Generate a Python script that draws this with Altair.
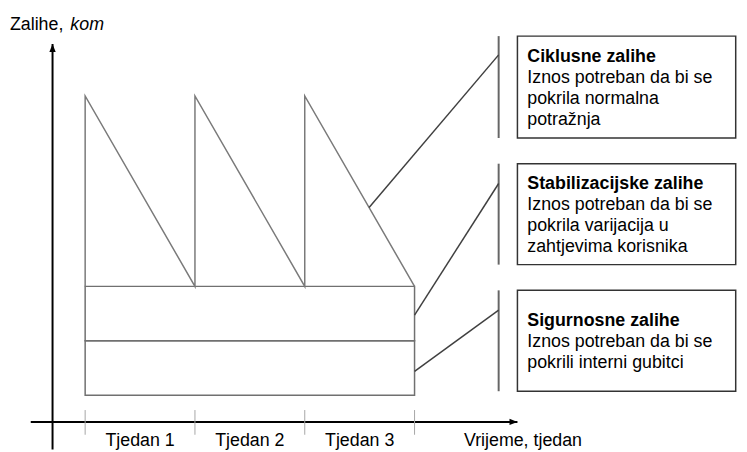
import altair as alt
import pandas as pd

# ---------------- data (weeks on x, stock units on y) ----------------
week_ticks = [0, 1, 2, 3]
week_labels = ["Tjedan 1", "Tjedan 2", "Tjedan 3"]
week_label_pos = [0.5, 1.5, 2.5]

saw_week = [0, 0, 1, 1, 2, 2, 3]
saw_level = [2, 5.5, 2, 5.5, 2, 5.5, 2]

band_low = [0, 1]
band_high = [1, 2]
band_start = [0, 0]
band_end = [3, 3]

box_titles = ["Ciklusne zalihe", "Stabilizacijske zalihe", "Sigurnosne zalihe"]
box_texts = [
    ["Iznos potreban da bi se", "pokrila normalna", "potražnja"],
    ["Iznos potreban da bi se", "pokrila varijacija u", "zahtjevima korisnika"],
    ["Iznos potreban da bi se", "pokrili interni gubitci"],
]
box_bottom = [4.727, 2.40, 0.073]
box_top = [6.60, 4.255, 1.927]
conn_from_x = [2.586, 3.0, 3.0]
conn_from_y = [3.45, 1.473, 0.436]
conn_to_y = [6.255, 3.891, 1.564]

# ---------------- layout ----------------
W, H = 739, 444
XDOM = [-0.7027, 5.9550]
YDOM = [-1.0, 7.0727]
FONT = "Liberation Sans"
FS = 18

xs = alt.Scale(domain=XDOM, nice=False, zero=False)
ys = alt.Scale(domain=YDOM, nice=False, zero=False)


def X(f="x"):
    return alt.X(f"{f}:Q", scale=xs, axis=None)


def Y(f="y"):
    return alt.Y(f"{f}:Q", scale=ys, axis=None)


X_AXIS_Y = -0.491
Y_AXIS_X = -0.297
X_AXIS_START = -0.4955
X_AXIS_END = 3.937
Y_AXIS_TOP = 6.4545
BRACKET_X = 3.766
BOX_X0, BOX_X1 = 3.937, 5.925
TEXT_X = 4.027
LINE_STEP = 0.391
CAP_OFF = 0.118

layers = []

# axes lines
axes_df = pd.DataFrame({
    "x": [X_AXIS_START, Y_AXIS_X],
    "x2": [X_AXIS_END, Y_AXIS_X],
    "y": [X_AXIS_Y, YDOM[0]],
    "y2": [X_AXIS_Y, Y_AXIS_TOP],
})
layers.append(alt.Chart(axes_df).mark_rule(color="black", strokeWidth=2).encode(
    x=X(), x2="x2:Q", y=Y(), y2="y2:Q"))

# arrowheads
layers.append(alt.Chart(pd.DataFrame({"x": [X_AXIS_END], "y": [X_AXIS_Y]})).mark_point(
    shape="M0,0L-4,-1.6L-4,1.6Z", size=16, filled=True, color="black", opacity=1, strokeWidth=0
).encode(x=X(), y=Y()))
layers.append(alt.Chart(pd.DataFrame({"x": [Y_AXIS_X], "y": [Y_AXIS_TOP]})).mark_point(
    shape="M0,0L-1.6,4L1.6,4Z", size=16, filled=True, color="black", opacity=1, strokeWidth=0
).encode(x=X(), y=Y()))

# ticks
tick_df = pd.DataFrame({"x": week_ticks, "y": [-0.273] * 4, "y2": [-0.727] * 4})
layers.append(alt.Chart(tick_df).mark_rule(color="#a6a6a6", strokeWidth=1).encode(
    x=X(), y=Y(), y2="y2:Q"))

# tick labels
lab_df = pd.DataFrame({"x": week_label_pos, "y": [-0.927] * 3, "t": week_labels})
layers.append(alt.Chart(lab_df).mark_text(font=FONT, fontSize=FS, color="black",
                                          baseline="alphabetic", align="center").encode(
    x=X(), y=Y(), text="t:N"))

# axis titles
layers.append(alt.Chart(pd.DataFrame({"x": [3.45], "y": [-0.927], "t": ["Vrijeme, tjedan"]})).mark_text(
    font=FONT, fontSize=FS, color="black", baseline="alphabetic", align="left").encode(
    x=X(), y=Y(), text="t:N"))
layers.append(alt.Chart(pd.DataFrame({"x": [-0.685], "y": [6.709], "t": ["Zalihe,"]})).mark_text(
    font=FONT, fontSize=FS, color="black", baseline="alphabetic", align="left").encode(
    x=X(), y=Y(), text="t:N"))
layers.append(alt.Chart(pd.DataFrame({"x": [-0.135], "y": [6.709], "t": ["kom"]})).mark_text(
    font=FONT, fontSize=FS, color="black", baseline="alphabetic", align="left", fontStyle="italic").encode(
    x=X(), y=Y(), text="t:N"))

# stock bands
band_df = pd.DataFrame({"x": band_start, "x2": band_end, "y": band_low, "y2": band_high})
layers.append(alt.Chart(band_df).mark_rect(fillOpacity=0, stroke="#707070", strokeWidth=1.5).encode(
    x=X(), x2="x2:Q", y=Y(), y2="y2:Q"))

# sawtooth cycle stock
saw_df = pd.DataFrame({"x": saw_week, "y": saw_level, "o": list(range(len(saw_week)))})
layers.append(alt.Chart(saw_df).mark_line(color="#7a7a7a", strokeWidth=1.5).encode(
    x=X(), y=Y(), order="o:Q"))

# brackets
br_df = pd.DataFrame({"x": [BRACKET_X] * 3, "y": box_bottom, "y2": box_top})
layers.append(alt.Chart(br_df).mark_rule(color="#666666", strokeWidth=2).encode(
    x=X(), y=Y(), y2="y2:Q"))

# boxes
box_df = pd.DataFrame({"x": [BOX_X0] * 3, "x2": [BOX_X1] * 3, "y": box_bottom, "y2": box_top})
layers.append(alt.Chart(box_df).mark_rect(fill="white", stroke="#333333", strokeWidth=1.5).encode(
    x=X(), x2="x2:Q", y=Y(), y2="y2:Q"))

# connectors
con_df = pd.DataFrame({"x": conn_from_x, "y": conn_from_y, "x2": [BRACKET_X] * 3, "y2": conn_to_y})
layers.append(alt.Chart(con_df).mark_rule(color="#404040", strokeWidth=1.5).encode(
    x=X(), y=Y(), x2="x2:Q", y2="y2:Q"))

# box texts
rows = []
for k in range(3):
    lines = [box_titles[k]] + box_texts[k]
    n = len(lines)
    c = (box_bottom[k] + box_top[k]) / 2
    for i, t in enumerate(lines):
        rows.append({"x": TEXT_X, "y": c + ((n - 1) / 2 - i) * LINE_STEP - CAP_OFF,
                     "t": t, "bold": i == 0})
txt_df = pd.DataFrame(rows)
layers.append(alt.Chart(txt_df[txt_df.bold]).mark_text(
    font=FONT, fontSize=FS, fontWeight="bold", color="black", baseline="alphabetic", align="left").encode(
    x=X(), y=Y(), text="t:N"))
layers.append(alt.Chart(txt_df[~txt_df.bold]).mark_text(
    font=FONT, fontSize=FS, color="black", baseline="alphabetic", align="left").encode(
    x=X(), y=Y(), text="t:N"))

chart = alt.layer(*layers).properties(
    width=W, height=H, padding=0, autosize=alt.AutoSizeParams(type="none")
).configure_view(stroke=None)

chart.save("out.html", embed_options={"renderer": "svg", "actions": False})
